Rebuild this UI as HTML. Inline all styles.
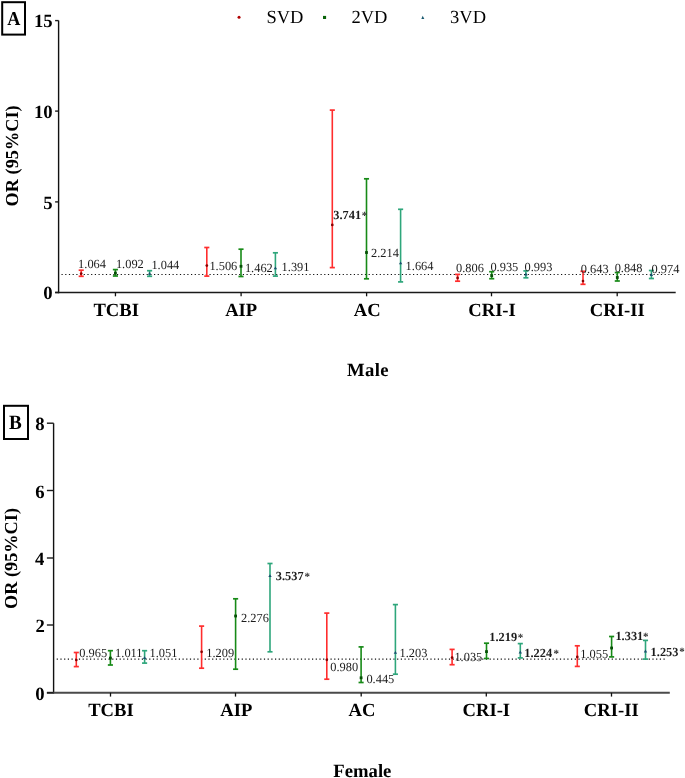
<!DOCTYPE html>
<html><head><meta charset="utf-8"><style>
html,body{margin:0;padding:0;background:#fff;}
svg{display:block;font-family:"Liberation Serif", serif;text-rendering:geometricPrecision;will-change:transform;}
</style></head><body>
<svg width="685" height="778" viewBox="0 0 685 778">
<rect width="685" height="778" fill="#fff"/>
<rect x="2.2" y="2.2" width="22.8" height="32.4" fill="none" stroke="#000" stroke-width="2"/>
<text transform="translate(7.22,24.90) scale(0.92,1)" font-size="19.8" font-weight="bold">A</text>
<rect x="4.0" y="405.8" width="24.0" height="33.2" fill="none" stroke="#000" stroke-width="2"/>
<text transform="translate(8.98,429.30) scale(0.94,1)" font-size="20.4" font-weight="bold">B</text>
<line x1="61.50" y1="274.50" x2="673.50" y2="274.50" stroke="#111" stroke-width="1.2" stroke-dasharray="1.2 2.5"/>
<line x1="58.60" y1="20.60" x2="58.60" y2="293.20" stroke="#111" stroke-width="1.4" />
<line x1="55.10" y1="292.50" x2="675.70" y2="292.50" stroke="#1a1a1a" stroke-width="1.6" />
<line x1="55.10" y1="292.50" x2="58.60" y2="292.50" stroke="#1a1a1a" stroke-width="1.4" />
<text x="43.36" y="299.00" font-size="18.7" font-weight="bold" fill="#000" >0</text>
<line x1="55.10" y1="201.90" x2="58.60" y2="201.90" stroke="#1a1a1a" stroke-width="1.4" />
<text x="43.33" y="208.70" font-size="18.7" font-weight="bold" fill="#000" >5</text>
<line x1="55.10" y1="111.10" x2="58.60" y2="111.10" stroke="#1a1a1a" stroke-width="1.4" />
<text x="34.01" y="117.90" font-size="18.7" font-weight="bold" fill="#000" >10</text>
<line x1="55.10" y1="20.60" x2="58.60" y2="20.60" stroke="#1a1a1a" stroke-width="1.4" />
<text x="33.98" y="27.00" font-size="18.7" font-weight="bold" fill="#000" >15</text>
<line x1="115.45" y1="292.50" x2="115.45" y2="296.30" stroke="#111" stroke-width="1.3" />
<text x="93.43" y="315.80" font-size="18.6" font-weight="bold" fill="#000" >TCBI</text>
<line x1="241.10" y1="292.50" x2="241.10" y2="296.30" stroke="#111" stroke-width="1.3" />
<text x="225.16" y="315.80" font-size="18.6" font-weight="bold" fill="#000" >AIP</text>
<line x1="366.60" y1="292.50" x2="366.60" y2="296.30" stroke="#111" stroke-width="1.3" />
<text x="353.79" y="315.80" font-size="18.6" font-weight="bold" fill="#000" >AC</text>
<line x1="491.50" y1="292.50" x2="491.50" y2="296.30" stroke="#111" stroke-width="1.3" />
<text x="468.29" y="315.80" font-size="18.6" font-weight="bold" fill="#000" >CRI-I</text>
<line x1="617.20" y1="292.50" x2="617.20" y2="296.30" stroke="#111" stroke-width="1.3" />
<text x="589.87" y="315.80" font-size="18.6" font-weight="bold" fill="#000" >CRI-II</text>
<line x1="81.20" y1="270.20" x2="81.20" y2="276.30" stroke="#ff2d2d" stroke-width="1.6" />
<line x1="78.65" y1="270.20" x2="83.75" y2="270.20" stroke="#ff2d2d" stroke-width="1.7" />
<line x1="78.65" y1="276.30" x2="83.75" y2="276.30" stroke="#ff2d2d" stroke-width="1.7" />
<circle cx="81.20" cy="273.60" r="1.35" fill="#8a0000"/>
<line x1="115.40" y1="269.60" x2="115.40" y2="276.00" stroke="#178a17" stroke-width="1.6" />
<line x1="112.85" y1="269.60" x2="117.95" y2="269.60" stroke="#178a17" stroke-width="1.7" />
<line x1="112.85" y1="276.00" x2="117.95" y2="276.00" stroke="#178a17" stroke-width="1.7" />
<rect x="114.00" y="271.70" width="2.8" height="2.8" fill="#064f06"/>
<line x1="149.60" y1="270.70" x2="149.60" y2="276.30" stroke="#2ea67b" stroke-width="1.6" />
<line x1="147.05" y1="270.70" x2="152.15" y2="270.70" stroke="#2ea67b" stroke-width="1.7" />
<line x1="147.05" y1="276.30" x2="152.15" y2="276.30" stroke="#2ea67b" stroke-width="1.7" />
<path d="M147.90 274.80 L151.30 274.80 L149.60 271.90 Z" fill="#1a4f6e"/>
<line x1="206.80" y1="247.50" x2="206.80" y2="276.10" stroke="#ff2d2d" stroke-width="1.6" />
<line x1="204.25" y1="247.50" x2="209.35" y2="247.50" stroke="#ff2d2d" stroke-width="1.7" />
<line x1="204.25" y1="276.10" x2="209.35" y2="276.10" stroke="#ff2d2d" stroke-width="1.7" />
<circle cx="206.80" cy="265.60" r="1.35" fill="#8a0000"/>
<line x1="241.00" y1="249.20" x2="241.00" y2="276.50" stroke="#178a17" stroke-width="1.6" />
<line x1="238.45" y1="249.20" x2="243.55" y2="249.20" stroke="#178a17" stroke-width="1.7" />
<line x1="238.45" y1="276.50" x2="243.55" y2="276.50" stroke="#178a17" stroke-width="1.7" />
<rect x="239.60" y="264.90" width="2.8" height="2.8" fill="#064f06"/>
<line x1="275.40" y1="252.80" x2="275.40" y2="276.10" stroke="#2ea67b" stroke-width="1.6" />
<line x1="272.85" y1="252.80" x2="277.95" y2="252.80" stroke="#2ea67b" stroke-width="1.7" />
<line x1="272.85" y1="276.10" x2="277.95" y2="276.10" stroke="#2ea67b" stroke-width="1.7" />
<path d="M273.70 269.30 L277.10 269.30 L275.40 266.40 Z" fill="#1a4f6e"/>
<line x1="332.30" y1="110.10" x2="332.30" y2="267.60" stroke="#ff2d2d" stroke-width="1.6" />
<line x1="329.75" y1="110.10" x2="334.85" y2="110.10" stroke="#ff2d2d" stroke-width="1.7" />
<line x1="329.75" y1="267.60" x2="334.85" y2="267.60" stroke="#ff2d2d" stroke-width="1.7" />
<circle cx="332.30" cy="224.90" r="1.35" fill="#8a0000"/>
<line x1="366.50" y1="178.80" x2="366.50" y2="278.80" stroke="#178a17" stroke-width="1.6" />
<line x1="363.95" y1="178.80" x2="369.05" y2="178.80" stroke="#178a17" stroke-width="1.7" />
<line x1="363.95" y1="278.80" x2="369.05" y2="278.80" stroke="#178a17" stroke-width="1.7" />
<rect x="365.10" y="251.10" width="2.8" height="2.8" fill="#064f06"/>
<line x1="400.60" y1="209.30" x2="400.60" y2="281.90" stroke="#2ea67b" stroke-width="1.6" />
<line x1="398.05" y1="209.30" x2="403.15" y2="209.30" stroke="#2ea67b" stroke-width="1.7" />
<line x1="398.05" y1="281.90" x2="403.15" y2="281.90" stroke="#2ea67b" stroke-width="1.7" />
<path d="M398.90 264.30 L402.30 264.30 L400.60 261.40 Z" fill="#1a4f6e"/>
<line x1="457.60" y1="274.40" x2="457.60" y2="281.20" stroke="#ff2d2d" stroke-width="1.6" />
<line x1="455.05" y1="274.40" x2="460.15" y2="274.40" stroke="#ff2d2d" stroke-width="1.7" />
<line x1="455.05" y1="281.20" x2="460.15" y2="281.20" stroke="#ff2d2d" stroke-width="1.7" />
<circle cx="457.60" cy="277.90" r="1.35" fill="#8a0000"/>
<line x1="491.70" y1="271.70" x2="491.70" y2="278.70" stroke="#178a17" stroke-width="1.6" />
<line x1="489.15" y1="271.70" x2="494.25" y2="271.70" stroke="#178a17" stroke-width="1.7" />
<line x1="489.15" y1="278.70" x2="494.25" y2="278.70" stroke="#178a17" stroke-width="1.7" />
<rect x="490.30" y="274.20" width="2.8" height="2.8" fill="#064f06"/>
<line x1="525.90" y1="270.90" x2="525.90" y2="277.80" stroke="#2ea67b" stroke-width="1.6" />
<line x1="523.35" y1="270.90" x2="528.45" y2="270.90" stroke="#2ea67b" stroke-width="1.7" />
<line x1="523.35" y1="277.80" x2="528.45" y2="277.80" stroke="#2ea67b" stroke-width="1.7" />
<path d="M524.20 275.60 L527.60 275.60 L525.90 272.70 Z" fill="#1a4f6e"/>
<line x1="583.00" y1="271.30" x2="583.00" y2="284.30" stroke="#ff2d2d" stroke-width="1.6" />
<line x1="580.45" y1="271.30" x2="585.55" y2="271.30" stroke="#ff2d2d" stroke-width="1.7" />
<line x1="580.45" y1="284.30" x2="585.55" y2="284.30" stroke="#ff2d2d" stroke-width="1.7" />
<circle cx="583.00" cy="281.00" r="1.35" fill="#8a0000"/>
<line x1="617.30" y1="272.50" x2="617.30" y2="281.00" stroke="#178a17" stroke-width="1.6" />
<line x1="614.75" y1="272.50" x2="619.85" y2="272.50" stroke="#178a17" stroke-width="1.7" />
<line x1="614.75" y1="281.00" x2="619.85" y2="281.00" stroke="#178a17" stroke-width="1.7" />
<rect x="615.90" y="276.10" width="2.8" height="2.8" fill="#064f06"/>
<line x1="651.40" y1="270.50" x2="651.40" y2="278.50" stroke="#2ea67b" stroke-width="1.6" />
<line x1="648.85" y1="270.50" x2="653.95" y2="270.50" stroke="#2ea67b" stroke-width="1.7" />
<line x1="648.85" y1="278.50" x2="653.95" y2="278.50" stroke="#2ea67b" stroke-width="1.7" />
<path d="M649.70 276.00 L653.10 276.00 L651.40 273.10 Z" fill="#1a4f6e"/>
<text x="78.11" y="268.00" font-size="12.4" font-weight="normal" fill="#1c1c1c" >1.064</text>
<text x="115.91" y="268.30" font-size="12.4" font-weight="normal" fill="#1c1c1c" >1.092</text>
<text x="151.41" y="269.10" font-size="12.4" font-weight="normal" fill="#1c1c1c" >1.044</text>
<text x="209.41" y="270.20" font-size="12.4" font-weight="normal" fill="#1c1c1c" >1.506</text>
<text x="244.91" y="271.50" font-size="12.4" font-weight="normal" fill="#1c1c1c" >1.462</text>
<text x="281.61" y="270.80" font-size="12.4" font-weight="normal" fill="#1c1c1c" >1.391</text>
<text x="333.23" y="219.00" font-size="12.4" font-weight="bold" fill="#1c1c1c" >3.741</text>
<text x="371.06" y="257.10" font-size="12.4" font-weight="normal" fill="#1c1c1c" >2.214</text>
<text x="405.61" y="270.40" font-size="12.4" font-weight="normal" fill="#1c1c1c" >1.664</text>
<text x="456.03" y="272.30" font-size="12.4" font-weight="normal" fill="#1c1c1c" >0.806</text>
<text x="490.43" y="270.50" font-size="12.4" font-weight="normal" fill="#1c1c1c" >0.935</text>
<text x="524.53" y="270.60" font-size="12.4" font-weight="normal" fill="#1c1c1c" >0.993</text>
<text x="580.73" y="272.60" font-size="12.4" font-weight="normal" fill="#1c1c1c" >0.643</text>
<text x="614.63" y="271.90" font-size="12.4" font-weight="normal" fill="#1c1c1c" >0.848</text>
<text x="651.53" y="273.30" font-size="12.4" font-weight="normal" fill="#1c1c1c" >0.974</text>
<text x="361.84" y="219.06" font-size="11" font-weight="bold" fill="#333" >*</text>
<line x1="56.70" y1="659.20" x2="666.50" y2="659.20" stroke="#111" stroke-width="1.2" stroke-dasharray="1.2 2.5"/>
<line x1="53.60" y1="423.20" x2="53.60" y2="693.50" stroke="#111" stroke-width="1.4" />
<line x1="46.90" y1="692.80" x2="669.80" y2="692.80" stroke="#4a4a4a" stroke-width="2.0" />
<line x1="46.90" y1="692.80" x2="53.60" y2="692.80" stroke="#1a1a1a" stroke-width="1.4" />
<text x="35.36" y="699.60" font-size="18.7" font-weight="bold" fill="#000" >0</text>
<line x1="46.90" y1="625.00" x2="53.60" y2="625.00" stroke="#1a1a1a" stroke-width="1.4" />
<text x="35.45" y="632.00" font-size="18.7" font-weight="bold" fill="#000" >2</text>
<line x1="46.90" y1="558.00" x2="53.60" y2="558.00" stroke="#1a1a1a" stroke-width="1.4" />
<text x="35.00" y="564.90" font-size="18.7" font-weight="bold" fill="#000" >4</text>
<line x1="46.90" y1="490.50" x2="53.60" y2="490.50" stroke="#1a1a1a" stroke-width="1.4" />
<text x="35.20" y="497.50" font-size="18.7" font-weight="bold" fill="#000" >6</text>
<line x1="46.90" y1="423.20" x2="53.60" y2="423.20" stroke="#1a1a1a" stroke-width="1.4" />
<text x="35.27" y="429.90" font-size="18.7" font-weight="bold" fill="#000" >8</text>
<line x1="110.50" y1="692.80" x2="110.50" y2="696.60" stroke="#111" stroke-width="1.3" />
<text x="88.23" y="716.00" font-size="18.6" font-weight="bold" fill="#000" >TCBI</text>
<line x1="235.50" y1="692.80" x2="235.50" y2="696.60" stroke="#111" stroke-width="1.3" />
<text x="220.36" y="716.00" font-size="18.6" font-weight="bold" fill="#000" >AIP</text>
<line x1="361.20" y1="692.80" x2="361.20" y2="696.60" stroke="#111" stroke-width="1.3" />
<text x="348.49" y="716.00" font-size="18.6" font-weight="bold" fill="#000" >AC</text>
<line x1="486.30" y1="692.80" x2="486.30" y2="696.60" stroke="#111" stroke-width="1.3" />
<text x="462.59" y="716.00" font-size="18.6" font-weight="bold" fill="#000" >CRI-I</text>
<line x1="611.50" y1="692.80" x2="611.50" y2="696.60" stroke="#111" stroke-width="1.3" />
<text x="583.87" y="716.00" font-size="18.6" font-weight="bold" fill="#000" >CRI-II</text>
<line x1="76.30" y1="652.50" x2="76.30" y2="666.60" stroke="#ff2d2d" stroke-width="1.6" />
<line x1="73.75" y1="652.50" x2="78.85" y2="652.50" stroke="#ff2d2d" stroke-width="1.7" />
<line x1="73.75" y1="666.60" x2="78.85" y2="666.60" stroke="#ff2d2d" stroke-width="1.7" />
<circle cx="76.30" cy="660.00" r="1.35" fill="#8a0000"/>
<line x1="110.40" y1="650.70" x2="110.40" y2="665.00" stroke="#178a17" stroke-width="1.6" />
<line x1="107.85" y1="650.70" x2="112.95" y2="650.70" stroke="#178a17" stroke-width="1.7" />
<line x1="107.85" y1="665.00" x2="112.95" y2="665.00" stroke="#178a17" stroke-width="1.7" />
<rect x="109.00" y="656.70" width="2.8" height="2.8" fill="#064f06"/>
<line x1="144.60" y1="650.70" x2="144.60" y2="663.10" stroke="#2ea67b" stroke-width="1.6" />
<line x1="142.05" y1="650.70" x2="147.15" y2="650.70" stroke="#2ea67b" stroke-width="1.7" />
<line x1="142.05" y1="663.10" x2="147.15" y2="663.10" stroke="#2ea67b" stroke-width="1.7" />
<path d="M142.90 659.10 L146.30 659.10 L144.60 656.20 Z" fill="#1a4f6e"/>
<line x1="201.60" y1="626.10" x2="201.60" y2="668.20" stroke="#ff2d2d" stroke-width="1.6" />
<line x1="199.05" y1="626.10" x2="204.15" y2="626.10" stroke="#ff2d2d" stroke-width="1.7" />
<line x1="199.05" y1="668.20" x2="204.15" y2="668.20" stroke="#ff2d2d" stroke-width="1.7" />
<circle cx="201.60" cy="651.80" r="1.35" fill="#8a0000"/>
<line x1="235.60" y1="598.80" x2="235.60" y2="669.20" stroke="#178a17" stroke-width="1.6" />
<line x1="233.05" y1="598.80" x2="238.15" y2="598.80" stroke="#178a17" stroke-width="1.7" />
<line x1="233.05" y1="669.20" x2="238.15" y2="669.20" stroke="#178a17" stroke-width="1.7" />
<rect x="234.20" y="614.60" width="2.8" height="2.8" fill="#064f06"/>
<line x1="270.00" y1="563.50" x2="270.00" y2="651.80" stroke="#2ea67b" stroke-width="1.6" />
<line x1="267.45" y1="563.50" x2="272.55" y2="563.50" stroke="#2ea67b" stroke-width="1.7" />
<line x1="267.45" y1="651.80" x2="272.55" y2="651.80" stroke="#2ea67b" stroke-width="1.7" />
<path d="M268.30 577.10 L271.70 577.10 L270.00 574.20 Z" fill="#1a4f6e"/>
<line x1="326.80" y1="613.10" x2="326.80" y2="679.20" stroke="#ff2d2d" stroke-width="1.6" />
<line x1="324.25" y1="613.10" x2="329.35" y2="613.10" stroke="#ff2d2d" stroke-width="1.7" />
<line x1="324.25" y1="679.20" x2="329.35" y2="679.20" stroke="#ff2d2d" stroke-width="1.7" />
<circle cx="326.80" cy="659.80" r="1.35" fill="#8a0000"/>
<line x1="361.10" y1="646.90" x2="361.10" y2="682.50" stroke="#178a17" stroke-width="1.6" />
<line x1="358.55" y1="646.90" x2="363.65" y2="646.90" stroke="#178a17" stroke-width="1.7" />
<line x1="358.55" y1="682.50" x2="363.65" y2="682.50" stroke="#178a17" stroke-width="1.7" />
<rect x="359.70" y="676.40" width="2.8" height="2.8" fill="#064f06"/>
<line x1="395.40" y1="604.60" x2="395.40" y2="674.20" stroke="#2ea67b" stroke-width="1.6" />
<line x1="392.85" y1="604.60" x2="397.95" y2="604.60" stroke="#2ea67b" stroke-width="1.7" />
<line x1="392.85" y1="674.20" x2="397.95" y2="674.20" stroke="#2ea67b" stroke-width="1.7" />
<path d="M393.70 653.80 L397.10 653.80 L395.40 650.90 Z" fill="#1a4f6e"/>
<line x1="452.10" y1="649.40" x2="452.10" y2="664.70" stroke="#ff2d2d" stroke-width="1.6" />
<line x1="449.55" y1="649.40" x2="454.65" y2="649.40" stroke="#ff2d2d" stroke-width="1.7" />
<line x1="449.55" y1="664.70" x2="454.65" y2="664.70" stroke="#ff2d2d" stroke-width="1.7" />
<circle cx="452.10" cy="657.60" r="1.35" fill="#8a0000"/>
<line x1="486.50" y1="643.20" x2="486.50" y2="658.50" stroke="#178a17" stroke-width="1.6" />
<line x1="483.95" y1="643.20" x2="489.05" y2="643.20" stroke="#178a17" stroke-width="1.7" />
<line x1="483.95" y1="658.50" x2="489.05" y2="658.50" stroke="#178a17" stroke-width="1.7" />
<rect x="485.10" y="650.20" width="2.8" height="2.8" fill="#064f06"/>
<line x1="520.30" y1="643.60" x2="520.30" y2="657.90" stroke="#2ea67b" stroke-width="1.6" />
<line x1="517.75" y1="643.60" x2="522.85" y2="643.60" stroke="#2ea67b" stroke-width="1.7" />
<line x1="517.75" y1="657.90" x2="522.85" y2="657.90" stroke="#2ea67b" stroke-width="1.7" />
<path d="M518.60 653.50 L522.00 653.50 L520.30 650.60 Z" fill="#1a4f6e"/>
<line x1="577.30" y1="645.80" x2="577.30" y2="666.40" stroke="#ff2d2d" stroke-width="1.6" />
<line x1="574.75" y1="645.80" x2="579.85" y2="645.80" stroke="#ff2d2d" stroke-width="1.7" />
<line x1="574.75" y1="666.40" x2="579.85" y2="666.40" stroke="#ff2d2d" stroke-width="1.7" />
<circle cx="577.30" cy="656.90" r="1.35" fill="#8a0000"/>
<line x1="611.60" y1="636.50" x2="611.60" y2="656.90" stroke="#178a17" stroke-width="1.6" />
<line x1="609.05" y1="636.50" x2="614.15" y2="636.50" stroke="#178a17" stroke-width="1.7" />
<line x1="609.05" y1="656.90" x2="614.15" y2="656.90" stroke="#178a17" stroke-width="1.7" />
<rect x="610.20" y="646.60" width="2.8" height="2.8" fill="#064f06"/>
<line x1="645.50" y1="640.40" x2="645.50" y2="659.10" stroke="#2ea67b" stroke-width="1.6" />
<line x1="642.95" y1="640.40" x2="648.05" y2="640.40" stroke="#2ea67b" stroke-width="1.7" />
<line x1="642.95" y1="659.10" x2="648.05" y2="659.10" stroke="#2ea67b" stroke-width="1.7" />
<path d="M643.80 652.50 L647.20 652.50 L645.50 649.60 Z" fill="#1a4f6e"/>
<text x="79.33" y="656.50" font-size="12.4" font-weight="normal" fill="#1c1c1c" >0.965</text>
<text x="115.11" y="656.60" font-size="12.4" font-weight="normal" fill="#1c1c1c" >1.011</text>
<text x="149.51" y="656.70" font-size="12.4" font-weight="normal" fill="#1c1c1c" >1.051</text>
<text x="206.21" y="657.00" font-size="12.4" font-weight="normal" fill="#1c1c1c" >1.209</text>
<text x="240.96" y="621.90" font-size="12.4" font-weight="normal" fill="#1c1c1c" >2.276</text>
<text x="275.73" y="579.80" font-size="12.4" font-weight="bold" fill="#1c1c1c" >3.537</text>
<text x="330.33" y="670.70" font-size="12.4" font-weight="normal" fill="#1c1c1c" >0.980</text>
<text x="366.43" y="682.80" font-size="12.4" font-weight="normal" fill="#1c1c1c" >0.445</text>
<text x="399.51" y="656.80" font-size="12.4" font-weight="normal" fill="#1c1c1c" >1.203</text>
<text x="454.41" y="660.70" font-size="12.4" font-weight="normal" fill="#1c1c1c" >1.035</text>
<text x="489.31" y="640.60" font-size="12.4" font-weight="bold" fill="#1c1c1c" >1.219</text>
<text x="524.31" y="656.60" font-size="12.4" font-weight="bold" fill="#1c1c1c" >1.224</text>
<text x="580.31" y="657.50" font-size="12.4" font-weight="normal" fill="#1c1c1c" >1.055</text>
<text x="615.41" y="639.50" font-size="12.4" font-weight="bold" fill="#1c1c1c" >1.331</text>
<text x="650.61" y="655.80" font-size="12.4" font-weight="bold" fill="#1c1c1c" >1.253</text>
<text x="304.54" y="579.76" font-size="11" font-weight="bold" fill="#333" >*</text>
<text x="517.84" y="641.06" font-size="11" font-weight="bold" fill="#333" >*</text>
<text x="553.44" y="656.86" font-size="11" font-weight="bold" fill="#333" >*</text>
<text x="643.04" y="639.66" font-size="11" font-weight="bold" fill="#333" >*</text>
<text x="679.24" y="655.26" font-size="11" font-weight="bold" fill="#333" >*</text>
<text transform="translate(17.9,155.8) rotate(-90)" x="-50.58" y="0" font-size="18.3" font-weight="bold">OR (95%CI)</text>
<text transform="translate(16.8,558.5) rotate(-90)" x="-50.58" y="0" font-size="18.3" font-weight="bold">OR (95%CI)</text>
<circle cx="239.05" cy="17.2" r="1.5" fill="#b00000"/>
<rect x="323" y="15.9" width="3.1" height="3.1" fill="#0a640a"/>
<path d="M421.3 18.9 L424.3 18.9 L422.7 15.8 Z" fill="#1a5a70"/>
<text x="266.46" y="22.90" font-size="18.5" font-weight="normal" fill="#000" >SVD</text>
<text x="351.49" y="22.70" font-size="18.5" font-weight="normal" fill="#000" >2VD</text>
<text x="450.11" y="22.70" font-size="18.5" font-weight="normal" fill="#000" >3VD</text>
<text x="346.88" y="375.50" font-size="18.7" font-weight="bold" fill="#000" letter-spacing="0.4">Male</text>
<text x="333.28" y="777.20" font-size="18.7" font-weight="bold" fill="#000" >Female</text>
</svg>
</body></html>
